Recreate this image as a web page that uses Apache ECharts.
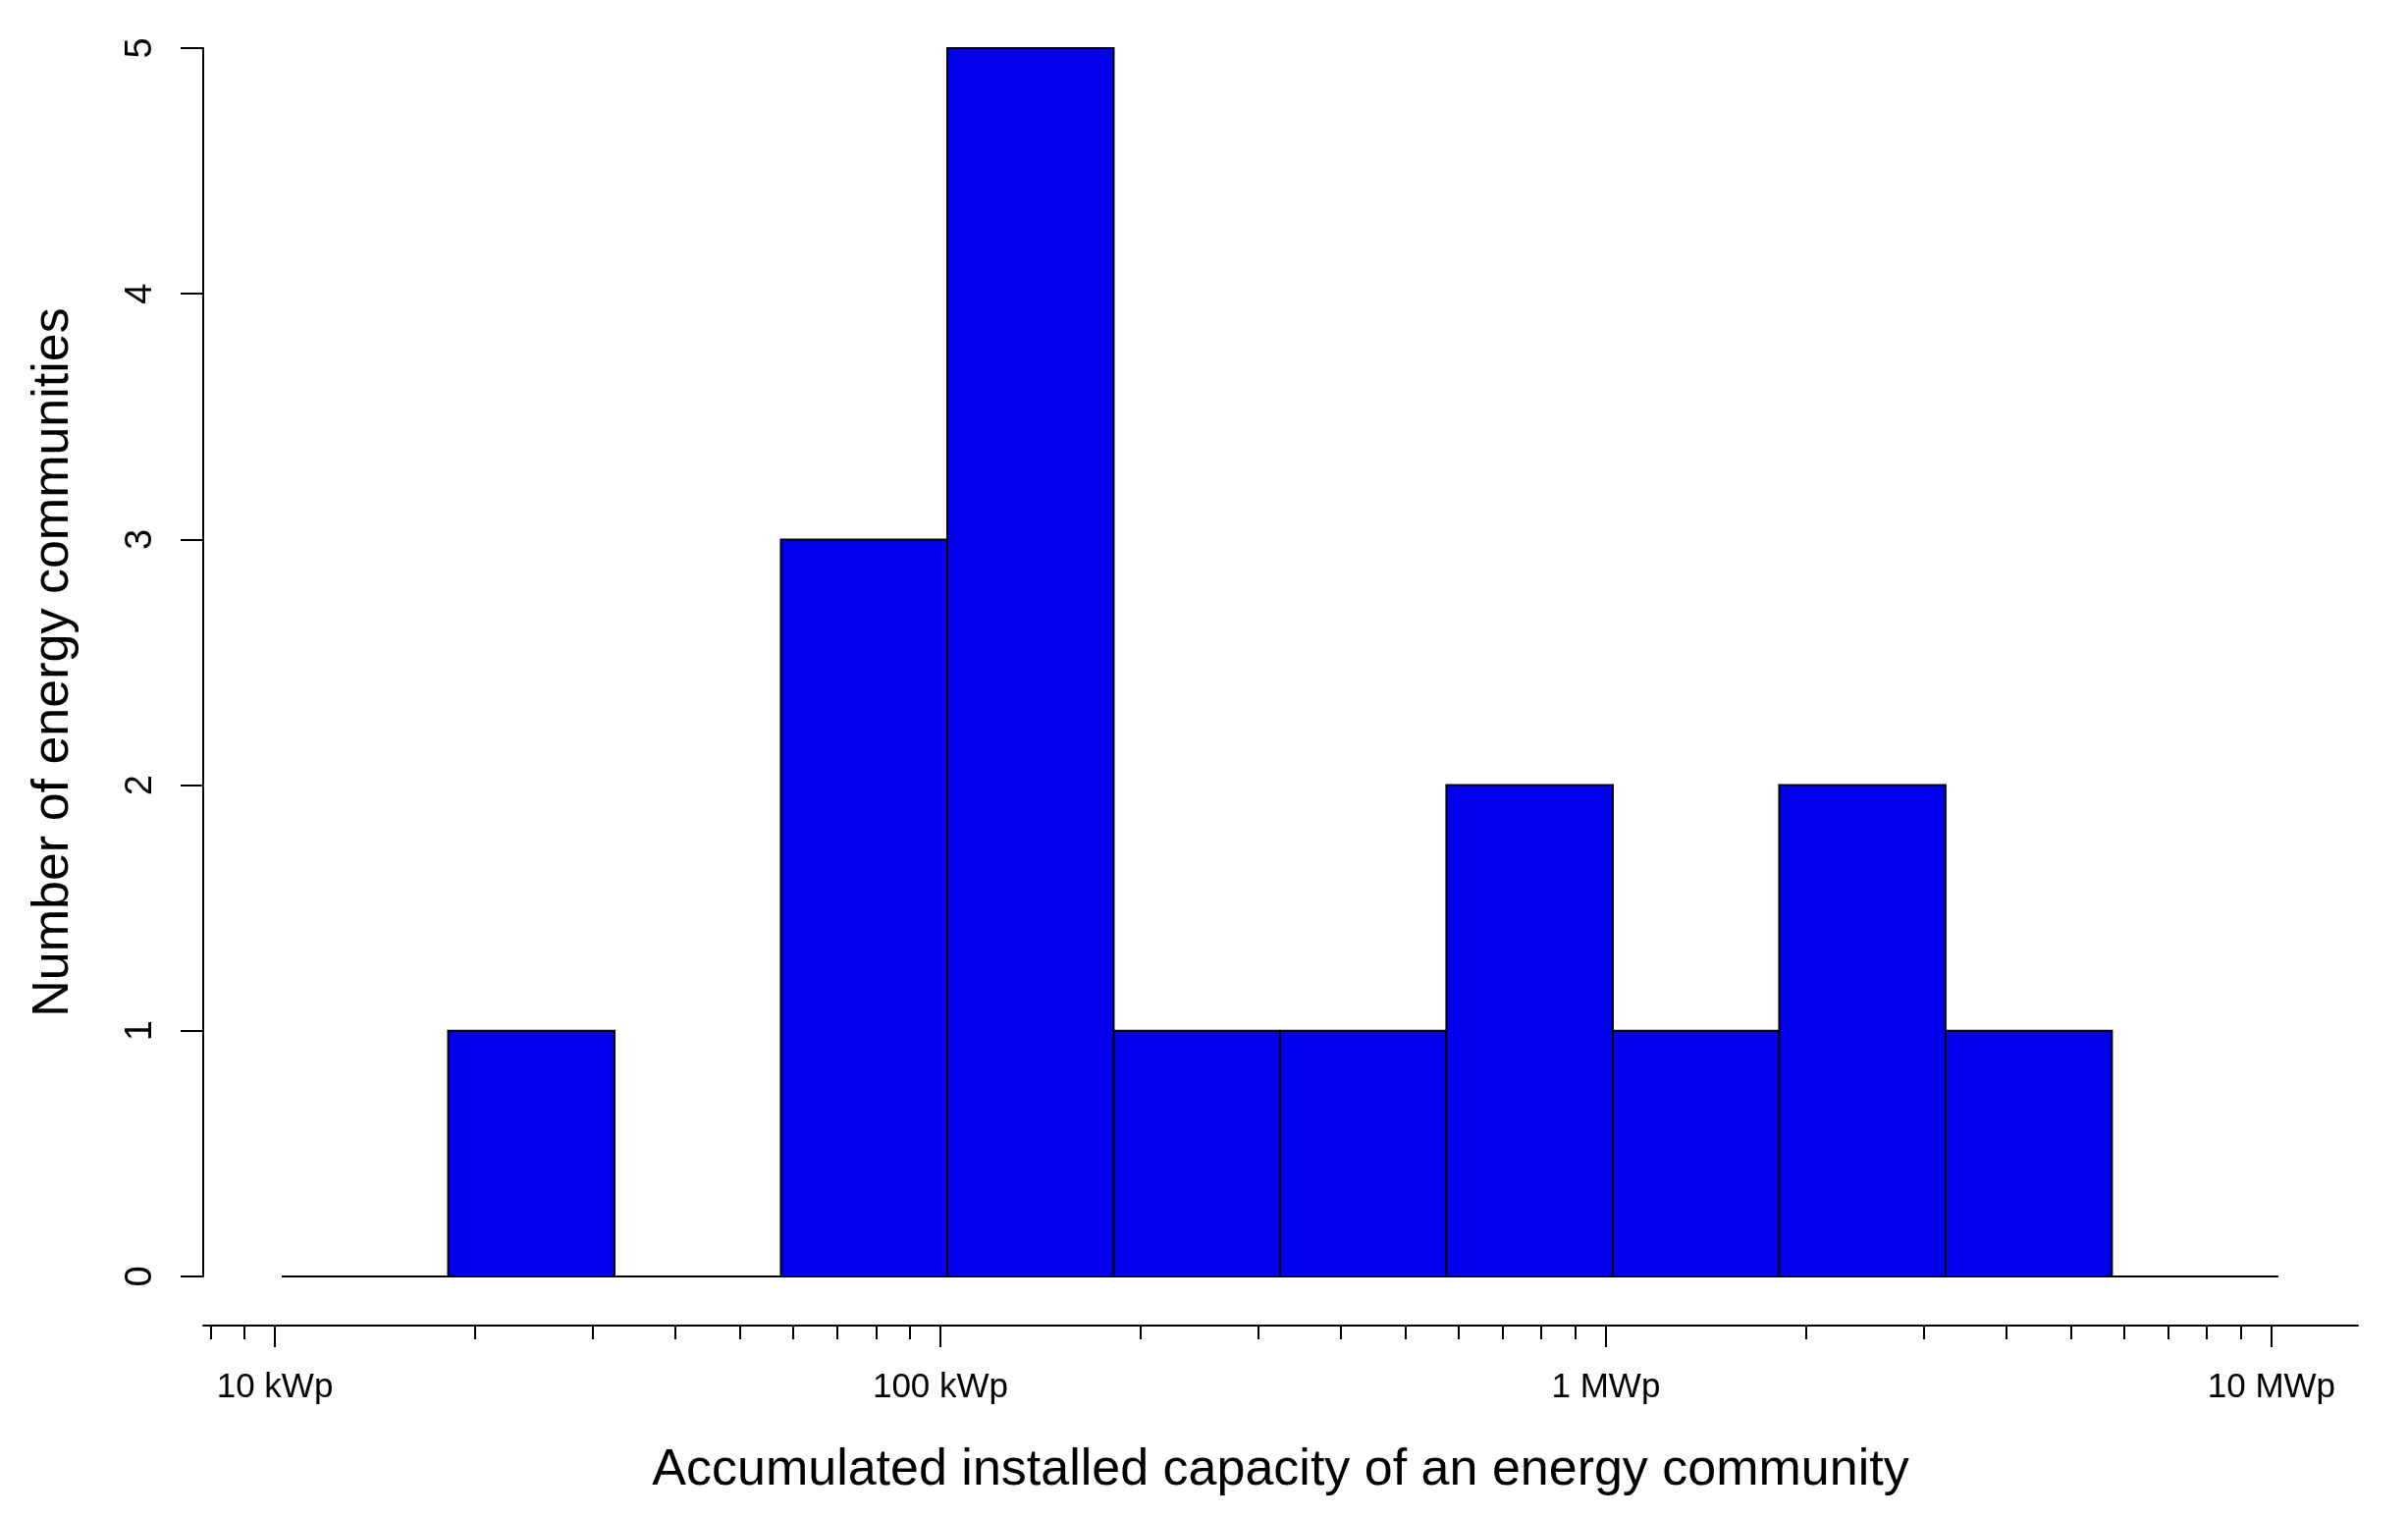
<!DOCTYPE html>
<html>
<head>
<meta charset="utf-8">
<script src="https://cdn.jsdelivr.net/npm/echarts@6/dist/echarts.min.js"></script>
<style>
  html, body { margin: 0; padding: 0; background: #ffffff; }
  #chart { width: 2453px; height: 1547px; }
</style>
</head>
<body>
<div id="chart"></div>
<script>
// Histogram bin edges (kWp) and counts per bin
const binEdgesKWp = [10.24, 18.21, 32.38, 57.58, 102.4, 182.1, 323.8, 575.8, 1024, 1821, 3238, 5758, 10240];
const binCounts = [0, 1, 0, 3, 5, 1, 1, 2, 1, 2, 1, 0];

// Axis ticks (kWp)
const majorTicksKWp = [10, 100, 1000, 10000];
const majorTickLabels = ['10 kWp', '100 kWp', '1 MWp', '10 MWp'];
const minorTicksKWp = [8, 9, 20, 30, 40, 50, 60, 70, 80, 90,
  200, 300, 400, 500, 600, 700, 800, 900,
  2000, 3000, 4000, 5000, 6000, 7000, 8000, 9000];
const yTicks = [0, 1, 2, 3, 4, 5];

// Visible x range (kWp)
const xRangeKWp = [7.803, 13488];

const xTitle = 'Accumulated installed capacity of an energy community';
const yTitle = 'Number of energy communities';

const lg = Math.log10;
const xMin = lg(xRangeKWp[0]);
const xMax = lg(xRangeKWp[1]);

const histData = binCounts.map((c, i) => [lg(binEdgesKWp[i]), lg(binEdgesKWp[i + 1]), c]);

const FONT = '"Liberation Sans", Arial, Helvetica, sans-serif';

const chart = echarts.init(document.getElementById('chart'), null, { renderer: 'canvas', devicePixelRatio: 1 });

const option = {
  backgroundColor: '#ffffff',
  animation: false,
  grid: { left: 207, right: 51, top: 49, bottom: 247, containLabel: false },
  xAxis: [
    {
      type: 'value', min: xMin, max: xMax, position: 'bottom', offset: 50,
      axisLine: { show: true, onZero: false, lineStyle: { color: '#000', width: 2 } },
      axisTick: { show: true, length: 22, lineStyle: { color: '#000', width: 2 },
        customValues: majorTicksKWp.map(lg) },
      axisLabel: { show: true, color: '#000', fontSize: 35, fontFamily: FONT, margin: 46,
        customValues: majorTicksKWp.map(lg),
        formatter: function (v) {
          for (let i = 0; i < majorTicksKWp.length; i++) {
            if (Math.abs(lg(majorTicksKWp[i]) - v) < 1e-6) return majorTickLabels[i];
          }
          return '';
        } },
      splitLine: { show: false },
      name: xTitle, nameLocation: 'middle', nameGap: 122,
      nameTextStyle: { color: '#000', fontSize: 52, fontFamily: FONT }
    },
    {
      type: 'value', min: xMin, max: xMax, position: 'bottom', offset: 50,
      axisLine: { show: false, onZero: false },
      axisTick: { show: true, length: 14, lineStyle: { color: '#000', width: 2 },
        customValues: minorTicksKWp.map(lg) },
      axisLabel: { show: false },
      splitLine: { show: false }
    }
  ],
  yAxis: {
    type: 'value', min: 0, max: 5, interval: 1,
    axisLine: { show: true, onZero: false, lineStyle: { color: '#000', width: 2 } },
    axisTick: { show: true, length: 23, lineStyle: { color: '#000', width: 2 } },
    axisLabel: { show: true, rotate: 90, color: '#000', fontSize: 38, fontFamily: FONT, margin: 44,
      customValues: yTicks },
    splitLine: { show: false },
    name: yTitle, nameLocation: 'middle', nameGap: 126,
    nameTextStyle: { color: '#000', fontSize: 52, fontFamily: FONT }
  },
  series: [{
    type: 'custom',
    xAxisIndex: 0,
    yAxisIndex: 0,
    clip: false,
    data: histData,
    encode: { x: [0, 1], y: 2 },
    renderItem: function (params, api) {
      const x0 = api.value(0), x1 = api.value(1), c = api.value(2);
      const pTop = api.coord([x0, c]);
      const pBot = api.coord([x1, 0]);
      if (c === 0) {
        return { type: 'line',
          shape: { x1: pTop[0], y1: pBot[1], x2: pBot[0], y2: pBot[1] },
          style: { stroke: '#000', lineWidth: 2 } };
      }
      return { type: 'rect',
        shape: { x: pTop[0], y: pTop[1], width: pBot[0] - pTop[0], height: pBot[1] - pTop[1] },
        style: { fill: '#0000EE', stroke: '#000', lineWidth: 2 } };
    }
  }]
};

chart.setOption(option);
</script>
</body>
</html>
